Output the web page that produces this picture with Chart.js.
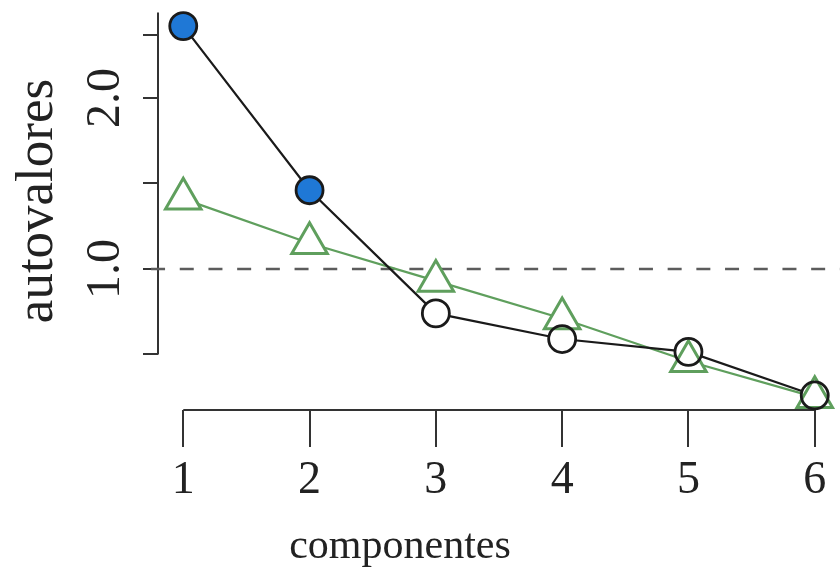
<!DOCTYPE html>
<html>
<head>
<meta charset="utf-8">
<script src="https://cdn.jsdelivr.net/npm/chart.js@4.4.1/dist/chart.umd.min.js"></script>
<style>
  html, body { margin: 0; padding: 0; background: #ffffff; }
  #wrap { width: 840px; height: 574px; }
</style>
</head>
<body>
<div id="wrap"><canvas id="grafico" width="840" height="574"></canvas></div>
<script>
// Scree plot: observed eigenvalues vs. eigenvalues from simulated data
const componentes = [1, 2, 3, 4, 5, 6];
const autovalores = [2.42, 1.46, 0.74, 0.59, 0.515, 0.26];
const simulados   = [1.41, 1.15, 0.93, 0.71, 0.46, 0.25];
const retenidos   = 2;            // components above the Kaiser threshold (filled)
const umbral      = 1.0;          // Kaiser criterion

const xTicks      = [1, 2, 3, 4, 5, 6];
const xTickLabels = ['1', '2', '3', '4', '5', '6'];
const yTicks      = [0.5, 1.0, 1.5, 2.0, 2.37];
const yTickLabels = ['', '1.0', '', '2.0', ''];
const yAxisRange  = [0.5, 2.5];

const tituloX = 'componentes';
const tituloY = 'autovalores';

const AZUL = '#1f78d6';
const VERDE = '#5f9f5d';
const NEGRO = '#1a1a1a';
const SERIF = '"Liberation Serif", "DejaVu Serif", serif';

const pts = (ys) => componentes.map((c, i) => ({ x: c, y: ys[i] }));

// R-style axes (line from first to last tick) and axis titles
const ejesR = {
  id: 'ejesR',
  beforeDatasetsDraw(chart) {
    const { ctx, chartArea, scales: { x, y } } = chart;
    ctx.save();
    ctx.strokeStyle = '#333';
    ctx.lineWidth = 2;
    ctx.beginPath();
    ctx.moveTo(x.getPixelForValue(xTicks[0]), chartArea.bottom);
    ctx.lineTo(x.getPixelForValue(xTicks[xTicks.length - 1]), chartArea.bottom);
    ctx.moveTo(chartArea.left, y.getPixelForValue(yAxisRange[0]));
    ctx.lineTo(chartArea.left, y.getPixelForValue(yAxisRange[1]));
    ctx.stroke();

    ctx.fillStyle = '#222';
    ctx.textAlign = 'center';
    ctx.textBaseline = 'alphabetic';
    ctx.font = '42px ' + SERIF;
    ctx.fillText(tituloX, 400, 558);

    ctx.translate(52, 201);
    ctx.rotate(-Math.PI / 2);
    ctx.font = '53px ' + SERIF;
    ctx.fillText(tituloY, 0, 0);
    ctx.restore();
  }
};

const dataUmbral = [{ x: 0.745, y: umbral }, { x: 6.2, y: umbral }];

new Chart(document.getElementById('grafico'), {
  type: 'line',
  data: {
    datasets: [
      { // Kaiser threshold
        data: dataUmbral, order: 10, clip: false,
        borderColor: '#5c5c5c', borderWidth: 2.5, borderDash: [14, 14.7],
        pointRadius: 0, fill: false
      },
      { // simulated series line
        data: pts(simulados), order: 9, clip: false,
        borderColor: VERDE, borderWidth: 2.3, pointRadius: 0, fill: false
      },
      { // observed series line
        data: pts(autovalores), order: 8, clip: false,
        borderColor: NEGRO, borderWidth: 2.2, pointRadius: 0, fill: false
      },
      { // open marker interiors (observed)
        data: pts(autovalores), order: 7, clip: false, showLine: false,
        pointStyle: 'circle', pointRadius: 13.5, pointBorderWidth: 0,
        pointBackgroundColor: '#ffffff', pointBorderColor: 'rgba(0,0,0,0)'
      },
      { // open marker interiors (simulated)
        data: pts(simulados), order: 6, clip: false, showLine: false,
        pointStyle: 'triangle', pointRadius: 20.5, pointBorderWidth: 0,
        pointBackgroundColor: '#ffffff', pointBorderColor: 'rgba(0,0,0,0)'
      },
      { // simulated markers
        data: pts(simulados), order: 5, clip: false, showLine: false,
        pointStyle: 'triangle', pointRadius: 20.5, pointBorderWidth: 3,
        pointBackgroundColor: 'rgba(0,0,0,0)', pointBorderColor: VERDE
      },
      { // observed markers, retained components filled
        data: pts(autovalores), order: 4, clip: false, showLine: false,
        pointStyle: 'circle', pointRadius: 13.5, pointBorderWidth: 2.8,
        pointBackgroundColor: componentes.map((c, i) => i < retenidos ? AZUL : 'rgba(0,0,0,0)'),
        pointBorderColor: NEGRO
      }
    ]
  },
  options: {
    responsive: false,
    animation: false,
    events: [],
    layout: { autoPadding: false, padding: { top: 9, left: 0, right: 0, bottom: 0 } },
    plugins: { legend: { display: false }, tooltip: { enabled: false } },
    scales: {
      x: {
        type: 'linear', min: 0.8, max: 6.2,
        afterBuildTicks: (s) => { s.ticks = xTicks.map(v => ({ value: v })); },
        afterFit: (s) => { s.height = 164; s.paddingLeft = 0; s.paddingRight = 0; },
        border: { display: false },
        grid: { drawOnChartArea: false, drawTicks: true, tickLength: 37, color: '#333', lineWidth: 2 },
        ticks: {
          autoSkip: false, minRotation: 0, maxRotation: 0, padding: 6,
          color: '#222', font: { family: SERIF, size: 46 },
          callback: (v, i) => xTickLabels[i]
        }
      },
      y: {
        type: 'linear', min: 0.175, max: 2.52,
        afterBuildTicks: (s) => { s.ticks = yTicks.map(v => ({ value: v })); },
        afterFit: (s) => { s.width = 158; s.paddingTop = 0; s.paddingBottom = 0; },
        border: { display: false },
        grid: { drawOnChartArea: false, drawTicks: true, tickLength: 15, color: '#333', lineWidth: 2 },
        ticks: {
          autoSkip: false, minRotation: 90, maxRotation: 90, crossAlign: 'center', padding: 7,
          color: '#222', font: { family: SERIF, size: 48 },
          callback: (v, i) => yTickLabels[i]
        }
      }
    }
  },
  plugins: [ejesR]
});
</script>
</body>
</html>
